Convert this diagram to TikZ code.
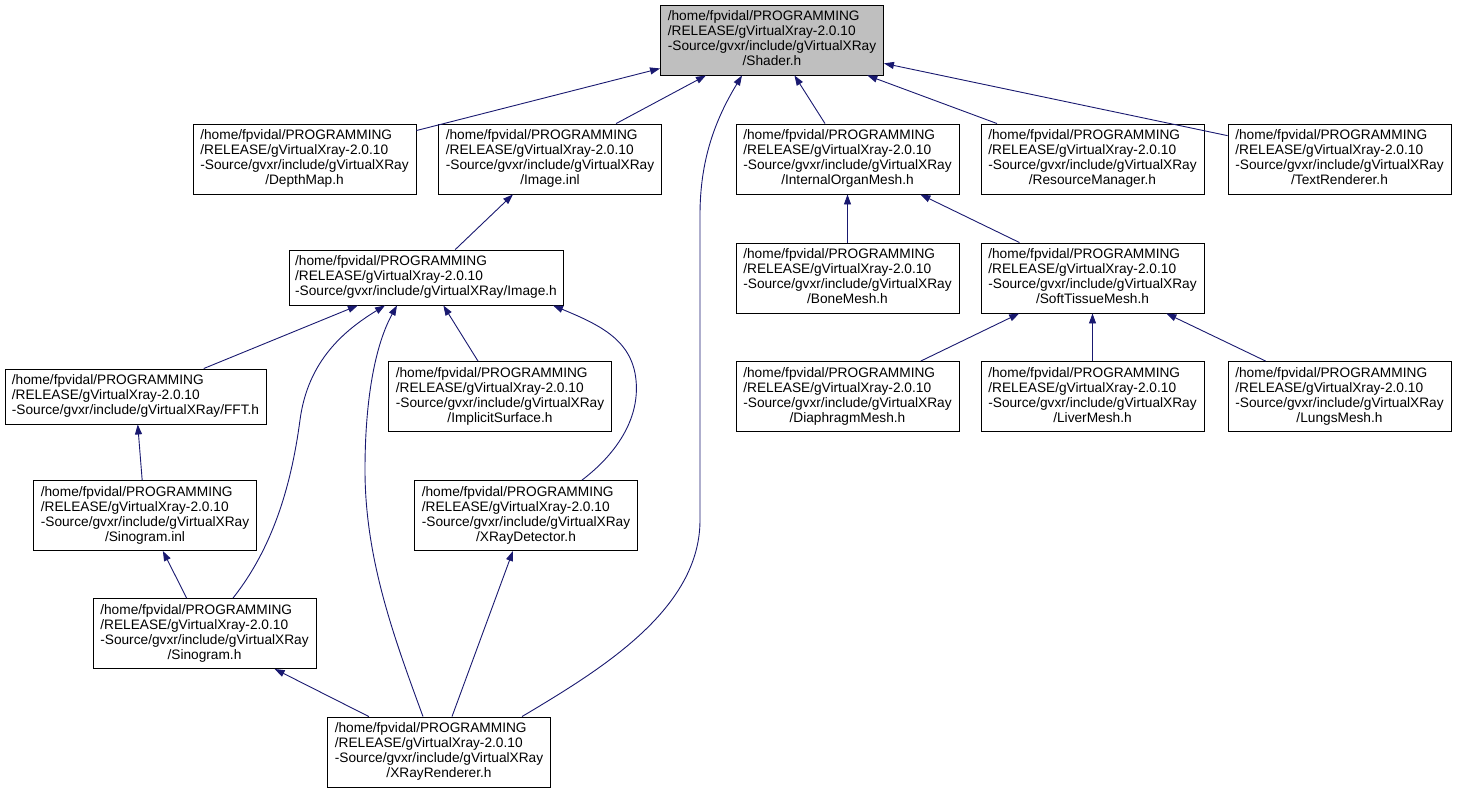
\documentclass[tikz,border=0pt]{standalone}
\usepackage{fontspec}
\setmainfont{Liberation Sans}
\usepackage{tikz}
\usetikzlibrary{arrows.meta, positioning, calc}
\definecolor{edgeblue}{RGB}{25,25,112}
\definecolor{rootgray}{RGB}{191,191,191}
% label of a header file: three path lines, then the file name centred
\newcommand{\hdr}[1]{\begin{tabular}{@{}l@{}}/home/fpvidal/PROGRAMMING\\/RELEASE/gVirtualXray-2.0.10\\-Source/gvxr/include/gVirtualXRay\\\multicolumn{1}{@{}c@{}}{/#1}\end{tabular}}
\newcommand{\hdrl}[1]{\begin{tabular}{@{}l@{}}/home/fpvidal/PROGRAMMING\\/RELEASE/gVirtualXray-2.0.10\\-Source/gvxr/include/gVirtualXRay/#1\end{tabular}}

\begin{document}
\begin{tikzpicture}[x=1pt, y=-1pt,
        file/.style={draw=black, line width=0.9pt, minimum width=223pt, minimum height=70pt, inner sep=0pt, font=\fontsize{13.7}{15}\selectfont},
        dep/.style={draw=edgeblue, line width=0.9pt, -{Triangle[length=10pt, width=7pt, fill=edgeblue]}}]
    \useasboundingbox (0,0) rectangle (1457,793);
    % included header
    \node[file, fill=rootgray] (shader) at (772,40) {\hdr{Shader.h}};
    % files that include it
    \node[file] (depthmap) at (304.5,159) {\hdr{DepthMap.h}};
    \node[file] (imageinl) at (550,159) {\hdr{Image.inl}};
    \node[file] (organ) at (847.5,159) {\hdr{InternalOrganMesh.h}};
    \node[file] (resource) at (1092.5,159) {\hdr{ResourceManager.h}};
    \node[file] (textrend) at (1339.5,159) {\hdr{TextRenderer.h}};
    \node[file, minimum width=274pt, minimum height=55pt] (imageh) at (426,277.5) {\hdrl{Image.h}};
    \node[file] (bone) at (847.5,278) {\hdr{BoneMesh.h}};
    \node[file] (soft) at (1092.5,278) {\hdr{SoftTissueMesh.h}};
    \node[file, minimum width=261pt, minimum height=55pt] (fft) at (135.5,396.5) {\hdrl{FFT.h}};
    \node[file] (implicit) at (500,396.5) {\hdr{ImplicitSurface.h}};
    \node[file] (diaphragm) at (847.5,396.5) {\hdr{DiaphragmMesh.h}};
    \node[file] (liver) at (1092.5,396.5) {\hdr{LiverMesh.h}};
    \node[file] (lungs) at (1339.5,396.5) {\hdr{LungsMesh.h}};
    \node[file] (sinoinl) at (145,515.5) {\hdr{Sinogram.inl}};
    \node[file] (detector) at (526,515.5) {\hdr{XRayDetector.h}};
    \node[file] (sinoh) at (204.5,633.5) {\hdr{Sinogram.h}};
    \node[file] (renderer) at (439,752) {\hdr{XRayRenderer.h}};
    % straight include edges
    \draw[dep] (depthmap) -- (shader);
    \draw[dep] (imageinl) -- (shader);
    \draw[dep] (organ) -- (shader);
    \draw[dep] (resource) -- (shader);
    \draw[dep] (textrend) -- (shader);
    \draw[dep] (imageh) -- (imageinl);
    \draw[dep] (bone) -- (organ);
    \draw[dep] (soft) -- (organ);
    \draw[dep] (fft) -- (imageh);
    \draw[dep] (implicit) -- (imageh);
    \draw[dep] (sinoinl) -- (fft);
    \draw[dep] (sinoh) -- (sinoinl);
    \draw[dep] (renderer) -- (sinoh);
    \draw[dep] (renderer) -- (detector);
    \draw[dep] (diaphragm) -- (soft);
    \draw[dep] (liver) -- (soft);
    \draw[dep] (lungs) -- (soft);
    % curved include edges
    \draw[dep] ([xshift=83pt]renderer.north) .. controls (600,670) and (700,610) .. (700,520)
        -- (700,215) .. controls (700,160) and (715,120) .. ([xshift=-30pt]shader.south);
    \draw[dep] ([xshift=28.5pt]sinoh.north) .. controls (275,545) and (292,480) .. (300,420)
        .. controls (308,360) and (345,330) .. ([xshift=-41pt]imageh.south);
    \draw[dep] ([xshift=-16pt]renderer.north) .. controls (395,640) and (365,560) .. (365,470)
        .. controls (365,400) and (375,345) .. ([xshift=-29pt]imageh.south);
    \draw[dep] ([xshift=56pt]detector.north) .. controls (615,455) and (640,420) .. (636,380)
        .. controls (632,340) and (600,325) .. ([xshift=127pt]imageh.south);
\end{tikzpicture}
\end{document}
